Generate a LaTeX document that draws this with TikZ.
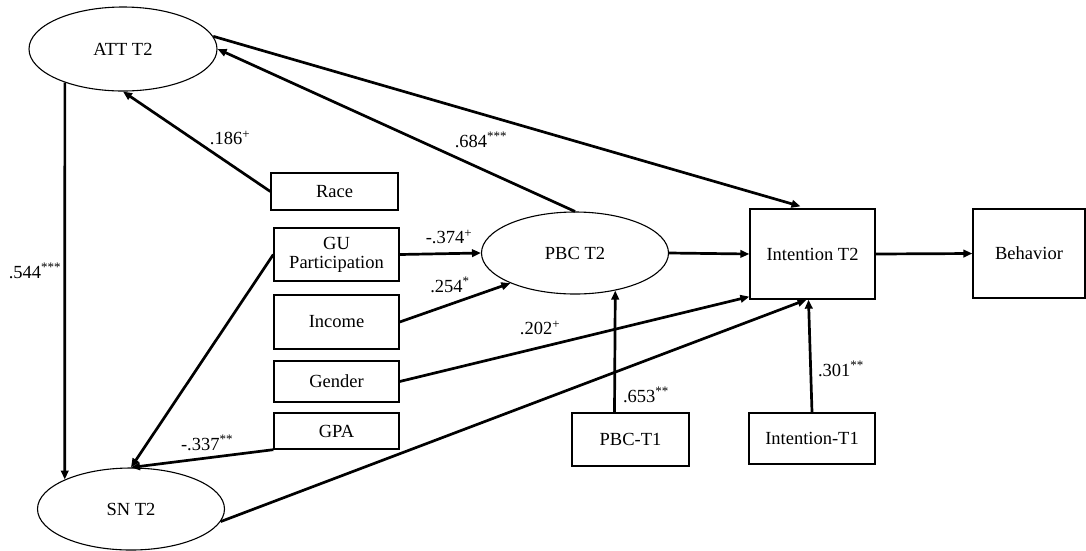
\documentclass[tikz,border=0pt]{standalone}
\usepackage{fontspec}
\setmainfont{Liberation Serif}
\usetikzlibrary{shapes.geometric,arrows.meta}

\begin{document}
\begin{tikzpicture}[x=1pt,y=-1pt,
  every node/.style={font=\fontsize{18.5}{22}\selectfont},
  latent/.style={draw,ellipse,line width=1.1pt,inner sep=0pt},
  obs/.style={draw,rectangle,line width=1.3pt,inner sep=0pt,align=center},
  arr/.style={line width=2.7pt,-{Triangle[length=9pt,width=7.5pt]}},
  coef/.style={inner sep=1pt}]
\useasboundingbox (0,0) rectangle (1086,550);
% latent variables
\node [latent,minimum width=188,minimum height=84] (att) at (123,49) {ATT T2};
\node [latent,minimum width=187,minimum height=82] (sn) at (131,509) {SN T2};
\node [latent,minimum width=187,minimum height=82] (pbc) at (575,253) {PBC T2};
% observed variables
\node [obs,minimum width=127,minimum height=37] (race) at (334.5,191.5) {Race};
\node [obs,minimum width=125,minimum height=53] (gu) at (336.5,254.5) {GU\\[-3pt]Participation};
\node [obs,minimum width=125,minimum height=54] (income) at (336.5,322) {Income};
\node [obs,minimum width=125,minimum height=41] (gender) at (336.5,381.5) {Gender};
\node [obs,minimum width=125,minimum height=36] (gpa) at (336.5,431) {GPA};
\node [obs,minimum width=125,minimum height=90] (intent) at (812.5,254) {Intention T2};
\node [obs,minimum width=112,minimum height=89] (behav) at (1029,253.5) {Behavior};
\node [obs,minimum width=117,minimum height=53] (pbcone) at (630.5,439.5) {PBC-T1};
\node [obs,minimum width=126,minimum height=51] (intentone) at (812,438.5) {Intention-T1};
% paths
\draw [arr] (att.210) -- (sn.156);
\draw [arr] (race.west) -- (att.south);
\draw [arr] (pbc.north) -- (att.east);
\draw [arr] (att.8) -- ([xshift=-12pt,yshift=2pt]intent.north);
\draw [arr] (gu.east) -- (pbc.west);
\draw [arr] (income.east) -- (pbc.205);
\draw [arr] (gender.east) -- ([yshift=3pt]intent.south west);
\draw [arr] (gu.west) -- (sn.north);
\draw [arr] (gpa.south west) -- (sn.north);
\draw [arr] (sn.-8) -- ([xshift=-6pt]intent.south);
\draw [arr] ([xshift=-16pt]pbcone.north) -- (pbc.-43);
\draw [arr] (intentone.north) -- ([xshift=-4pt]intent.south);
\draw [arr] (pbc.east) -- (intent.west);
\draw [arr] (intent.east) -- (behav.west);
% coefficients
\node [coef] (c1) at (35,271) {.544\textsuperscript{***}};
\node [coef] (c2) at (230,138) {.186\textsuperscript{+}};
\node [coef] (c3) at (481,140) {.684\textsuperscript{***}};
\node [coef] (c4) at (449,237) {-.374\textsuperscript{+}};
\node [coef] (c5) at (450,285) {.254\textsuperscript{*}};
\node [coef] (c6) at (540,328) {.202\textsuperscript{+}};
\node [coef] (c7) at (207,443) {-.337\textsuperscript{**}};
\node [coef] (c8) at (646,395) {.653\textsuperscript{**}};
\node [coef] (c9) at (841,369) {.301\textsuperscript{**}};
\end{tikzpicture}
\end{document}
